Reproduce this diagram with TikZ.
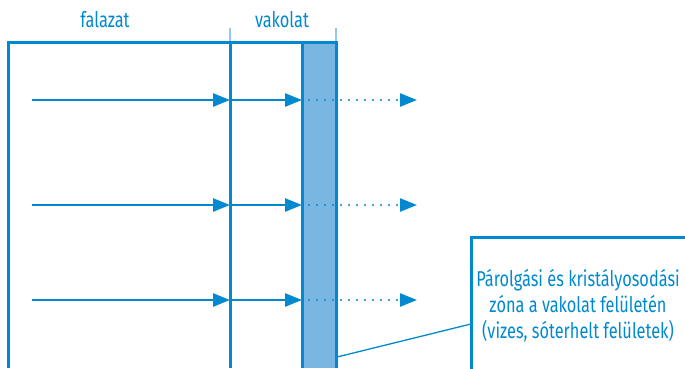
\documentclass[tikz,border=0pt]{standalone}
\usepackage{fontspec}
\setmainfont[FakeStretch=0.76]{Fira Sans}
\usetikzlibrary{arrows.meta}
\definecolor{cblue}{RGB}{0,137,208}
\definecolor{lblue}{RGB}{122,182,226}
\definecolor{tblue}{RGB}{150,200,235}
\begin{document}
\begin{tikzpicture}[x=1pt,y=-1pt,
  wall/.style={draw=cblue,line width=3pt},
  flow/.style={draw=cblue,line width=2.6pt,-{Triangle[length=17pt,width=13pt]}},
  dotflow/.style={draw=cblue,line width=2.4pt,dash pattern=on 0pt off 8pt,line cap=round,-{Triangle[length=17pt,width=13pt]}},
  lbl/.style={text=cblue,font=\fontsize{21.5}{26}\selectfont},
  tick/.style={draw=tblue,line width=2pt}]
\useasboundingbox (0,0) rectangle (685,368);
% strip
\fill[lblue] (302,42) rectangle (336,368);
\draw[wall] (8,368) -- (8,42) -- (336,42) -- (336,368);
\draw[wall] (230,42) -- (230,368);
\draw[wall] (302,42) -- (302,368);
\draw[tick] (230,28) -- (230,41);
\draw[tick] (336,28) -- (336,41);
\node[lbl] (falazat) at (105,20) {falazat};
\node[lbl] (vakolat) at (282,20) {vakolat};
% arrows
\foreach \y/\n in {100/a,205/b,300/c}{
  \coordinate (s\n) at (32,\y);
  \coordinate (m\n) at (230,\y);
  \coordinate (r\n) at (302,\y);
  \coordinate (e\n) at (417,\y);
  \draw[flow] (s\n) -- (m\n);
  \draw[flow] (m\n) -- (r\n);
  \draw[dotflow] ([xshift=7pt]r\n) -- (e\n);
}
% box
\draw[wall] (471,370) -- (471,237) -- (690,237);
\node[lbl,align=center] (note) at (578,306) {Párolgási és kristályosodási\\zóna a vakolat felületén\\(vizes, sóterhelt felületek)};
\coordinate (c1) at (337,357);
\coordinate (c2) at (471,324);
\draw[cblue,line width=1.3pt] (c1) -- (c2);
\end{tikzpicture}
\end{document}
